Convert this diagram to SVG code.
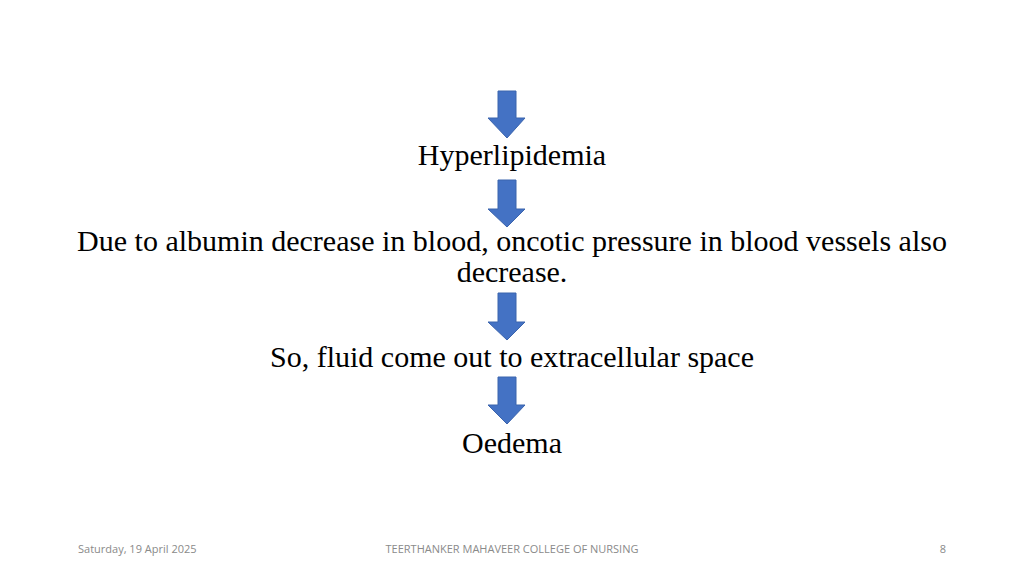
<svg xmlns="http://www.w3.org/2000/svg" width="1024" height="576" viewBox="0 0 1024 576">
<style>
.t{font-family:"Liberation Serif",serif;font-size:30px;fill:#000;text-anchor:middle}
.f{font-family:"Open Sans","Liberation Sans",sans-serif;font-size:11px;fill:#8a8a8a}
.a{fill:#4472C4;stroke:#3b64ad;stroke-width:1}
</style>
<rect width="1024" height="576" fill="#fff"/>
<g id="connectors">
<path class="a" d="M498,91H516V118H525L507,138L488,118H498Z"/>
<path class="a" d="M498,180H516V209H525L507,227L488,209H498Z"/>
<path class="a" d="M498,293H516V322H525L507,340L488,322H498Z"/>
<path class="a" d="M498,377H516V405H525L507,424L488,405H498Z"/>
</g>
<g id="n1"><text class="t" x="512" y="165">Hyperlipidemia</text></g>
<g id="n2"><text class="t" x="512" y="251">Due to albumin decrease in blood, oncotic pressure in blood vessels also</text><text class="t" x="512" y="282">decrease.</text></g>
<g id="n3"><text class="t" x="512" y="367">So, fluid come out to extracellular space</text></g>
<g id="n4"><text class="t" x="512" y="453">Oedema</text></g>
<g id="footer">
<text class="f" x="78" y="553">Saturday, 19 April 2025</text>
<text class="f" x="512" y="553" text-anchor="middle">TEERTHANKER MAHAVEER COLLEGE OF NURSING</text>
<text class="f" x="946" y="553" text-anchor="end">8</text>
</g>
</svg>
